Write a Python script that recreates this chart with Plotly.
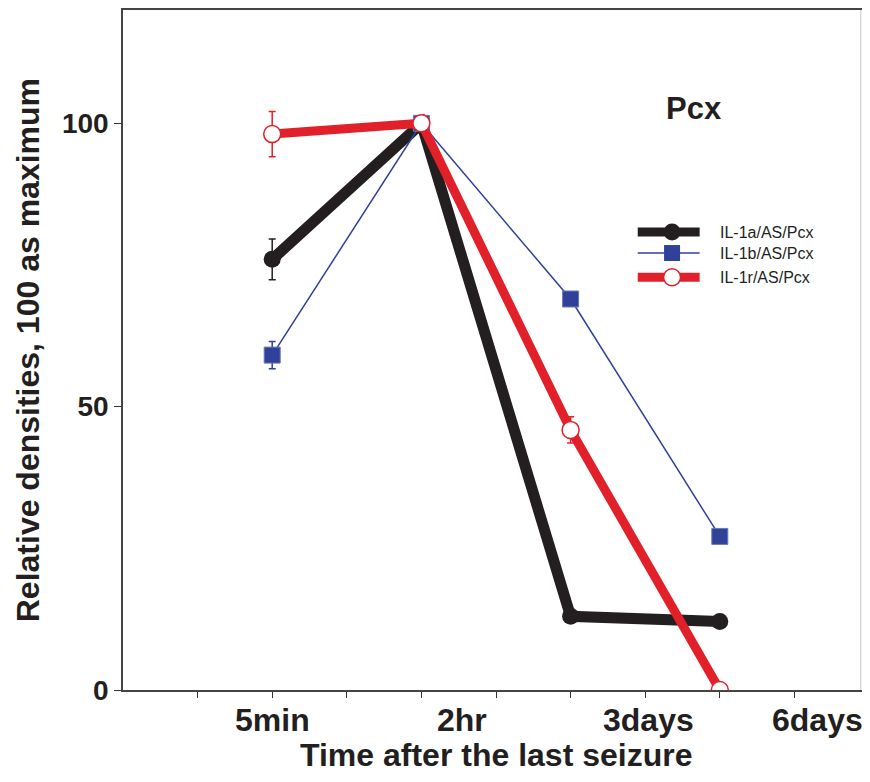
import plotly.graph_objects as go

# ---- data ----
time_labels = ["5min", "2hr", "3days", "6days"]
x_values = [2, 4, 6, 8]
series_names = ["IL-1a/AS/Pcx", "IL-1b/AS/Pcx", "IL-1r/AS/Pcx"]
il1a = [76.0, 100.0, 13.0, 12.1]
il1a_err = [3.6, 0, 0, 0]
il1b = [59.1, 100.0, 69.0, 27.1]
il1b_err = [2.4, 0, 0, 0]
il1r = [98.1, 100.0, 45.9, 0.0]
il1r_err = [4.0, 0, 2.3, 0]
y_ticks = [0, 50, 100]

FONT = "Liberation Sans, Arial, sans-serif"
BLACK = "#231f20"
BLUE = "#2f4199"
RED = "#e1202a"

fig = go.Figure()

fig.add_trace(go.Scatter(
    x=x_values, y=il1a, mode="lines+markers", name=series_names[0],
    line=dict(color=BLACK, width=11),
    marker=dict(symbol="circle", size=17, color=BLACK),
    error_y=dict(type="data", array=il1a_err, color=BLACK, thickness=1.5, width=3.5),
    showlegend=False))
fig.add_trace(go.Scatter(
    x=x_values, y=il1b, mode="lines+markers", name=series_names[1],
    line=dict(color=BLUE, width=1.5),
    marker=dict(symbol="square", size=16, color=BLUE, line=dict(color="#6a78b8", width=1)),
    error_y=dict(type="data", array=il1b_err, color=BLUE, thickness=1.5, width=3.5),
    showlegend=False))
fig.add_trace(go.Scatter(
    x=x_values, y=il1r, mode="lines+markers", name=series_names[2],
    line=dict(color=RED, width=9),
    marker=dict(symbol="circle", size=17, color="white", line=dict(color=RED, width=1.5)),
    error_y=dict(type="data", array=il1r_err, color=RED, thickness=1.5, width=3.5),
    showlegend=False))

# ---- manual legend on an overlay axis (paper-like coordinates) ----
leg_styles = [
    dict(line=dict(color=BLACK, width=9), marker=dict(symbol="circle", size=17, color=BLACK)),
    dict(line=dict(color=BLUE, width=1.5), marker=dict(symbol="square", size=16, color=BLUE)),
    dict(line=dict(color=RED, width=9), marker=dict(symbol="circle", size=17, color="white",
                                                     line=dict(color=RED, width=1.5))),
]
leg_rows = [0.6735, 0.6426, 0.607]
for name, st, yy in zip(series_names, leg_styles, leg_rows):
    fig.add_trace(go.Scatter(x=[0.690, 0.773], y=[yy, yy], mode="lines", line=st["line"],
                             xaxis="x2", yaxis="y2", showlegend=False, hoverinfo="skip"))
    fig.add_trace(go.Scatter(x=[0.736], y=[yy], mode="markers", marker=st["marker"],
                             xaxis="x2", yaxis="y2", showlegend=False, hoverinfo="skip"))
    fig.add_annotation(x=0.797, y=yy, xref="x2", yref="y2", text=name, showarrow=False,
                       xanchor="left", yanchor="middle",
                       font=dict(family=FONT, size=16, color=BLACK))

# x category labels
label_pos = [2.0, 4.54, 7.04, 9.31]
for lab, xp in zip(time_labels, label_pos):
    fig.add_annotation(x=xp, y=-0.044, xref="x", yref="paper", text="<b>%s</b>" % lab,
                       showarrow=False, xanchor="center", yanchor="middle",
                       font=dict(family=FONT, size=32, color=BLACK))

fig.add_annotation(x=0.5, y=-0.095, xref="paper", yref="paper",
                   text="<b>Time after the last seizure</b>", showarrow=False,
                   xanchor="center", yanchor="middle",
                   font=dict(family=FONT, size=32, color=BLACK))
fig.add_annotation(x=-0.127, y=0.5, xref="paper", yref="paper",
                   text="<b>Relative densities, 100 as maximum</b>", showarrow=False,
                   textangle=-90, xanchor="center", yanchor="middle",
                   font=dict(family=FONT, size=32, color=BLACK))
fig.add_annotation(x=0.765, y=0.855, xref="paper", yref="paper",
                   text="<b>Pcx</b>", showarrow=False, xanchor="center", yanchor="middle",
                   font=dict(family=FONT, size=31, color=BLACK))

# right border (light grey), placed at the visible right edge
fig.add_shape(type="line", xref="paper", yref="paper", x0=0.989, x1=0.989, y0=0, y1=1,
              line=dict(color="#c8c8c8", width=1))

# page has an 8px body margin: size figure so plot area lands at the reference pixels
fig.update_layout(
    width=862, height=766,
    margin=dict(l=115, r=1, t=2, b=84),
    paper_bgcolor="white", plot_bgcolor="white",
    xaxis=dict(range=[0, 10], tickvals=list(range(1, 10)), showticklabels=False,
               ticks="outside", ticklen=6, tickwidth=1, tickcolor="#333",
               showline=True, linecolor="#444", linewidth=1.5, mirror=True,
               showgrid=False, zeroline=False),
    yaxis=dict(range=[0, 120], tickvals=y_ticks, ticks="outside", ticklen=7,
               tickwidth=1, tickcolor="#333", showline=True, linecolor="#444",
               linewidth=1.5, showgrid=False, zeroline=False,
               tickfont=dict(family=FONT, size=28, color=BLACK, weight="bold")),
    xaxis2=dict(range=[0, 1], overlaying="x", visible=False, fixedrange=True),
    yaxis2=dict(range=[0, 1], overlaying="y", visible=False, fixedrange=True),
)

fig.write_html("out.html")
